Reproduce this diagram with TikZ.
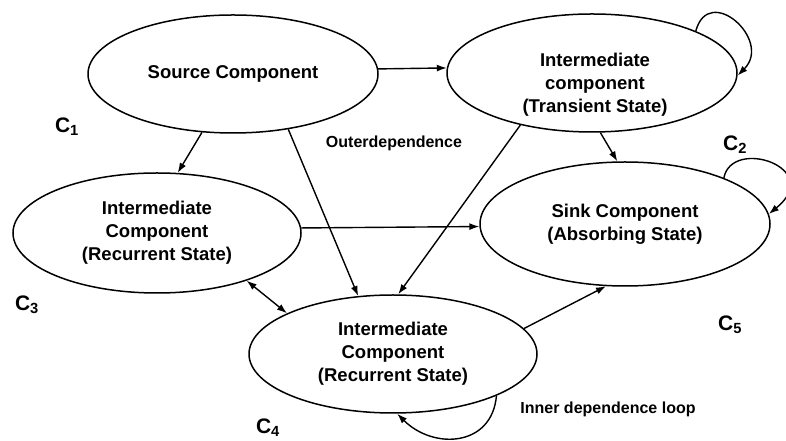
\documentclass[tikz,border=0pt]{standalone}
\usepackage{fontspec}
\setmainfont{Liberation Sans}
\usetikzlibrary{shapes.geometric,arrows.meta}

\begin{document}
\begin{tikzpicture}[x=1pt,y=1pt,
    comp/.style={draw,ellipse,line width=1.5pt,inner sep=0pt,minimum width=290pt,minimum height=118pt,align=center,font=\bfseries\fontsize{18.5}{23}\selectfont},
    lbl/.style={align=center,font=\bfseries\fontsize{18.5}{23}\selectfont},
    note/.style={font=\bfseries\fontsize{16}{19}\selectfont},
    cname/.style={font=\bfseries\fontsize{21}{24}\selectfont},
    link/.style={-{Latex[length=10pt,width=7pt]},line width=1.4pt}]
    \useasboundingbox (0,0) rectangle (786,441);

    % Components
    \node[comp] (src) at (233,367) {Source Component};
    \node[comp] (tra) at (592,368) {};
    \node[lbl] (tratxt) at (595,356) {Intermediate\\component\\(Transient State)};
    \node[comp,minimum width=288pt,minimum height=120pt] (rec) at (157,208) {Intermediate\\Component\\(Recurrent State)};
    \node[comp,minimum height=124pt] (snk) at (625,217) {Sink Component\\(Absorbing State)};
    \node[comp,minimum width=288pt] (bot) at (393,87) {Intermediate\\Component\\(Recurrent State)};

    % Component names
    \node[cname] (c1) at (67,314) {C\textsubscript{1}};
    \node[cname] (c2) at (735,296) {C\textsubscript{2}};
    \node[cname] (c3) at (27,136) {C\textsubscript{3}};
    \node[cname] (c4) at (268,13) {C\textsubscript{4}};
    \node[cname] (c5) at (730,116) {C\textsubscript{5}};

    % Notes
    \node[note] (outer) at (394,298) {Outerdependence};
    \node[note] (inner) at (608,32) {Inner dependence loop};

    % Outer dependences
    \draw[link] (src.2) -- (tra.178);
    \draw[link] (src.-118) -- (rec.71);
    \draw[link] (src.-45) -- (bot.121);
    \draw[link] (tra.-144) -- (bot.85);
    \draw[link] (tra.-82) -- (snk.97);
    \draw[link] (rec.2) -- (snk.-179);
    \draw[link,{Latex[length=10pt,width=7pt]}-{Latex[length=10pt,width=7pt]}] (rec.-28) -- (bot.159);
    \draw[link] (bot.11) -- (snk.-107);

    % Self loops
    \draw[link] (tra.22) to[out=75,in=45,looseness=2.1] (tra.-1);
    \draw[link] (snk.25) .. controls +(79:42) and +(39:73) .. (snk.4);
    \draw[link] (bot.-22) to[out=-95,in=-45,looseness=1.3] (bot.-86);
\end{tikzpicture}
\end{document}
